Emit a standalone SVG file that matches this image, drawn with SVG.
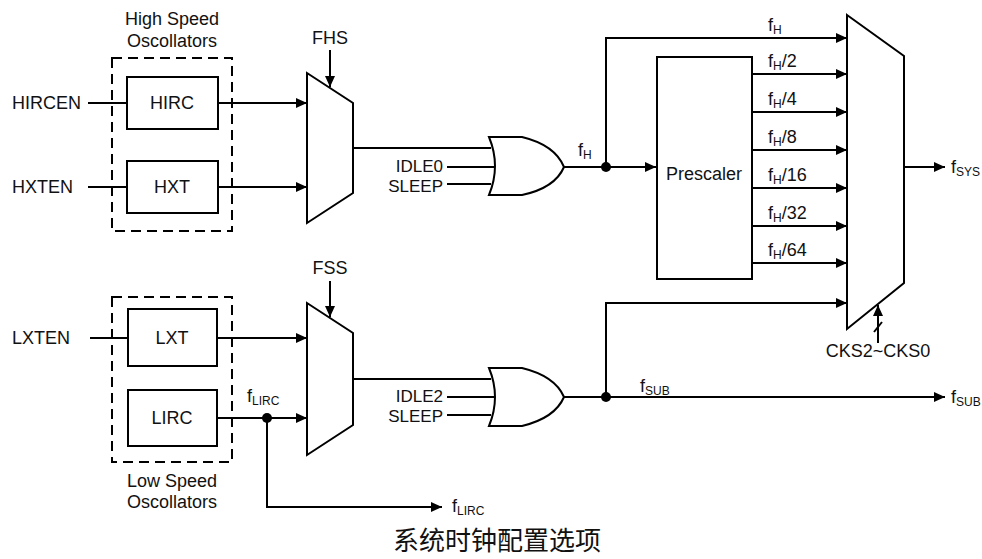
<svg xmlns="http://www.w3.org/2000/svg" width="982" height="559" viewBox="0 0 982 559">
<defs>
<marker id="ah" markerUnits="userSpaceOnUse" markerWidth="12" markerHeight="10" refX="11" refY="5" orient="auto">
<path d="M0,0 L11,5 L0,10 Z" fill="#000"/>
</marker>
<style>
text{font-family:"Liberation Sans",Arial,sans-serif;font-size:18px;fill:#111}
.m{text-anchor:middle}
.e{text-anchor:end}
.t{font-size:17px}
.s{font-size:12px}
.box{fill:#fff;stroke:#000;stroke-width:2}
.dash{fill:none;stroke:#000;stroke-width:2;stroke-dasharray:10,6}
.w{fill:none;stroke:#000;stroke-width:2}
.a{fill:none;stroke:#000;stroke-width:2;marker-end:url(#ah)}
.cap{font-family:"Noto Sans CJK SC","Noto Sans",sans-serif;font-size:26px}
</style>
</defs>
<rect width="982" height="559" fill="#fff"/>

<g id="connectors">
<path class="w" d="M88,103 H127"/>
<path class="w" d="M88,187 H127"/>
<path class="a" d="M218,103 H307"/>
<path class="a" d="M218,187 H307"/>
<path class="a" d="M330,50 V87"/>
<path class="w" d="M353,148 H491"/>
<path class="w" d="M447,167 H494"/>
<path class="w" d="M447,184 H491"/>
<path class="w" d="M564,167 H606"/>
<path class="a" d="M606,167 H656"/>
<path class="a" d="M606,167 V38 H847"/>
<path class="a" d="M752,74 H847"/>
<path class="a" d="M752,112 H847"/>
<path class="a" d="M752,150 H847"/>
<path class="a" d="M752,188 H847"/>
<path class="a" d="M752,226 H847"/>
<path class="a" d="M752,263 H847"/>
<path class="a" d="M904,167 H945"/>
<path class="a" d="M878,343 V305"/>
<path class="w" d="M874,332 L882,322"/>
<path class="w" d="M90,338 H128"/>
<path class="a" d="M217,338 H307"/>
<path class="a" d="M217,418 H307"/>
<path class="a" d="M267,418 V507 H442"/>
<path class="a" d="M330,281 V317"/>
<path class="w" d="M353,379 H491"/>
<path class="w" d="M447,397 H494"/>
<path class="w" d="M447,415 H491"/>
<path class="w" d="M564,397 H606"/>
<path class="a" d="M606,397 H945"/>
<path class="a" d="M606,397 V303 H847"/>
<circle cx="606" cy="167" r="5" fill="#000"/>
<circle cx="606" cy="397" r="5" fill="#000"/>
<circle cx="267" cy="418" r="5" fill="#000"/>
</g>

<g id="hs-group">
<rect class="dash" x="112" y="58" width="120" height="173"/>
<text class="m" x="172" y="25">High Speed</text>
<text class="m" x="172" y="47">Oscollators</text>
</g>
<g id="hirc"><rect class="box" x="127" y="77" width="91" height="52"/><text class="m" x="172" y="109">HIRC</text></g>
<g id="hxt"><rect class="box" x="127" y="161" width="91" height="52"/><text class="m" x="172" y="193">HXT</text></g>
<g id="ls-group">
<rect class="dash" x="112" y="297" width="120" height="165"/>
<text class="m" x="172" y="487">Low Speed</text>
<text class="m" x="172" y="508">Oscollators</text>
</g>
<g id="lxt"><rect class="box" x="128" y="309" width="89" height="57"/><text class="m" x="172" y="344">LXT</text></g>
<g id="lirc"><rect class="box" x="128" y="390" width="89" height="56"/><text class="m" x="172" y="424">LIRC</text></g>

<g id="mux-h"><path class="box" d="M307,73 L353,103 V193 L307,223 Z"/><text class="m" x="330" y="44">FHS</text></g>
<g id="mux-l"><path class="box" d="M307,303 L353,333 V425 L307,455 Z"/><text class="m" x="330" y="274">FSS</text></g>
<g id="or-h"><path class="box" d="M489,137 H522 Q555,145 564,167 Q555,188 522,195 H489 Q501,166 489,137 Z"/></g>
<g id="or-l"><path class="box" d="M489,368 H522 Q555,376 564,397 Q555,418 522,426 H489 Q501,397 489,368 Z"/></g>
<g id="prescaler"><rect class="box" x="657" y="57" width="95" height="222"/><text class="m" x="704" y="180">Prescaler</text></g>
<g id="mux-sys"><path class="box" d="M847,15 L904,56 V283 L847,329 Z"/></g>

<g id="labels">
<text x="12" y="109">HIRCEN</text>
<text x="12" y="193">HXTEN</text>
<text x="12" y="344">LXTEN</text>
<text class="e t" x="443" y="172">IDLE0</text>
<text class="e t" x="443" y="192">SLEEP</text>
<text class="e t" x="443" y="402">IDLE2</text>
<text class="e t" x="443" y="422">SLEEP</text>
<text x="578" y="156">f<tspan class="s" dy="3">H</tspan></text>
<text x="768" y="31">f<tspan class="s" dy="3">H</tspan></text>
<text x="768" y="67">f<tspan class="s" dy="3">H</tspan><tspan dy="-3">/2</tspan></text>
<text x="768" y="105">f<tspan class="s" dy="3">H</tspan><tspan dy="-3">/4</tspan></text>
<text x="768" y="143">f<tspan class="s" dy="3">H</tspan><tspan dy="-3">/8</tspan></text>
<text x="768" y="181">f<tspan class="s" dy="3">H</tspan><tspan dy="-3">/16</tspan></text>
<text x="768" y="219">f<tspan class="s" dy="3">H</tspan><tspan dy="-3">/32</tspan></text>
<text x="768" y="256">f<tspan class="s" dy="3">H</tspan><tspan dy="-3">/64</tspan></text>
<text x="951" y="173">f<tspan class="s" dy="3">SYS</tspan></text>
<text class="m" x="878" y="357">CKS2~CKS0</text>
<text x="247" y="402">f<tspan class="s" dy="3">LIRC</tspan></text>
<text x="452" y="512">f<tspan class="s" dy="3">LIRC</tspan></text>
<text x="640" y="392">f<tspan class="s" dy="3">SUB</tspan></text>
<text x="951" y="403">f<tspan class="s" dy="3">SUB</tspan></text>
<text class="m cap" x="497" y="550">系统时钟配置选项</text>
</g>
</svg>
